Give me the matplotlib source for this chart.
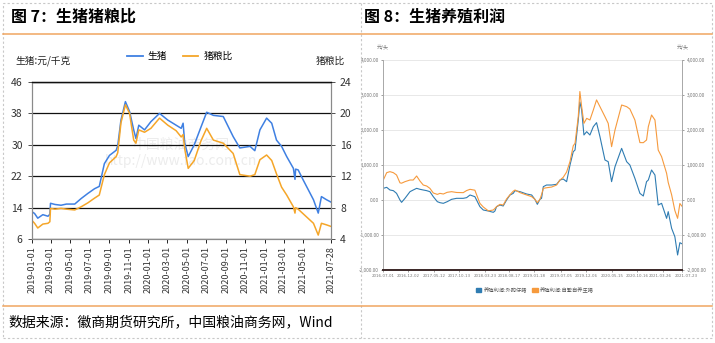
import matplotlib
matplotlib.use("Agg")
import matplotlib.pyplot as plt
import matplotlib.dates as mdates
import matplotlib.transforms as mtransforms
import numpy as np
from matplotlib.lines import Line2D
from matplotlib.patches import Rectangle

plt.rcParams['font.family'] = ['Noto Sans CJK SC', 'DejaVu Sans']

# ---- data: figure 7 (hog price / hog-grain ratio) ----
ratio_dates = ["2019-01-01", "2019-01-10", "2019-01-20", "2019-02-05", "2019-02-21", "2019-02-27",
               "2019-03-01", "2019-03-15", "2019-04-03", "2019-04-20", "2019-05-16", "2019-06-05",
               "2019-06-26", "2019-07-17", "2019-08-01", "2019-08-17", "2019-09-02", "2019-09-23",
               "2019-09-28", "2019-10-08", "2019-10-22", "2019-11-04", "2019-11-17", "2019-11-24",
               "2019-12-03", "2019-12-21", "2020-01-10", "2020-02-06", "2020-03-03", "2020-03-29",
               "2020-04-14", "2020-04-20", "2020-04-25", "2020-05-06", "2020-05-25", "2020-06-15",
               "2020-07-03", "2020-07-24", "2020-08-24", "2020-09-24", "2020-10-15", "2020-11-16",
               "2020-12-01", "2020-12-17", "2021-01-07", "2021-01-23", "2021-02-07", "2021-02-23",
               "2021-03-11", "2021-04-01", "2021-04-06", "2021-04-08", "2021-04-16", "2021-05-02",
               "2021-05-18", "2021-06-03", "2021-06-18", "2021-06-28", "2021-07-14", "2021-07-28"]
hog_price = [13.0, 12.5, 11.3, 12.2, 11.8, 12.3,
             15.1, 14.8, 14.6, 14.9, 14.9, 16.3,
             17.6, 18.8, 19.4, 25.2, 27.3, 28.6,
             29.8, 36.3, 41.0, 38.5, 33.8, 31.6,
             35.0, 33.8, 35.9, 38.0, 36.3, 35.0,
             34.2, 35.5, 30.5, 27.0, 30.0, 34.5,
             38.3, 37.5, 37.2, 32.1, 29.2, 29.6,
             28.5, 33.8, 36.8, 35.5, 31.2, 29.6,
             27.0, 24.0, 21.2, 23.8, 23.6, 21.0,
             18.5, 16.0, 12.6, 16.8, 16.0, 15.4]
hog_grain_ratio = [6.4, 6.0, 5.4, 5.9, 6.0, 6.2,
                   7.9, 7.8, 7.9, 7.8, 7.7, 8.1,
                   8.6, 9.2, 9.6, 12.2, 13.7, 14.5,
                   15.0, 18.8, 21.1, 20.0, 16.6, 16.2,
                   17.9, 17.6, 18.1, 19.4, 18.5, 17.8,
                   17.0, 17.3, 15.5, 13.0, 14.0, 16.5,
                   18.1, 16.6, 16.2, 14.9, 12.2, 12.0,
                   12.2, 14.1, 14.7, 14.0, 12.3, 10.6,
                   9.6, 8.1, 7.3, 8.0, 7.8, 7.2,
                   6.6, 6.0, 4.5, 6.0, 5.8, 5.6]
left_ticks = [6, 14, 22, 30, 38, 46]
right_ticks = [4, 8, 12, 16, 20, 24]
ratio_xticks = ["2019-01-01", "2019-03-01", "2019-05-01", "2019-07-01", "2019-09-01", "2019-11-01",
                "2020-01-01", "2020-03-01", "2020-05-01", "2020-07-01", "2020-09-01", "2020-11-01",
                "2021-01-01", "2021-03-01", "2021-05-01", "2021-07-28"]

# ---- data: figure 8 (hog farming profit, yuan/head) ----
profit_dates = ["2016-07-01", "2016-07-22", "2016-08-11", "2016-09-01", "2016-09-21", "2016-10-12",
                "2016-10-22", "2016-11-12", "2016-12-13", "2017-01-02", "2017-01-23", "2017-02-13",
                "2017-03-05", "2017-03-26", "2017-04-15", "2017-05-06", "2017-05-31", "2017-06-16",
                "2017-07-07", "2017-07-31", "2017-08-27", "2017-09-27", "2017-11-07", "2017-11-28",
                "2017-12-19", "2018-01-18", "2018-02-18", "2018-03-11", "2018-04-11", "2018-05-12",
                "2018-05-22", "2018-06-01", "2018-06-22", "2018-07-12", "2018-08-02", "2018-08-23",
                "2018-09-12", "2018-09-23", "2018-10-24", "2018-12-04", "2019-01-04", "2019-01-24",
                "2019-02-08", "2019-02-24", "2019-03-06", "2019-03-17", "2019-04-06", "2019-05-07",
                "2019-06-07", "2019-06-28", "2019-07-18", "2019-08-08", "2019-08-29", "2019-09-18",
                "2019-09-29", "2019-10-19", "2019-10-29", "2019-11-09", "2019-11-23", "2019-12-10",
                "2019-12-30", "2020-01-20", "2020-02-09", "2020-03-01", "2020-04-01", "2020-04-21",
                "2020-05-12", "2020-06-02", "2020-07-13", "2020-08-13", "2020-09-02", "2020-10-03",
                "2020-11-03", "2020-11-24", "2020-12-14", "2020-12-25", "2021-01-14", "2021-02-04",
                "2021-02-24", "2021-03-17", "2021-04-17", "2021-04-27", "2021-05-18", "2021-06-07",
                "2021-06-24", "2021-07-08", "2021-07-23"]
profit_bought_piglet = [333, 362, 286, 267, 190, 0,
                        -67, 48, 238, 286, 333, 305,
                        286, 267, 238, 95, -48, -76,
                        -95, -48, 19, 48, 48, 67,
                        143, 95, -190, -286, -314, -352,
                        -314, -190, -143, -171, 0, 143,
                        190, 267, 238, 171, 143, 19,
                        -124, 19, 48, 381, 428, 428,
                        448, 571, 600, 524, 1000, 1381,
                        1428, 2286, 2800, 2571, 1857, 1952,
                        1857, 2095, 2210, 1810, 1143, 1095,
                        524, 952, 1476, 1095, 1000, 619,
                        190, 114, 524, 571, 857, 714,
                        -143, -95, -524, -333, -810, -1048,
                        -1571, -1219, -1257]
profit_self_bred = [571, 781, 810, 781, 714, 490,
                    480, 524, 571, 571, 686, 540,
                    428, 400, 333, 200, 160, 190,
                    171, 220, 238, 215, 210, 270,
                    305, 280, -95, -200, -310, -286,
                    -240, -190, -124, -143, 30, 150,
                    250, 286, 210, 143, 95, 20,
                    -76, 19, 150, 333, 350, 370,
                    428, 571, 648, 800, 1100, 1550,
                    1619, 2381, 3100, 2667, 2190, 2333,
                    2286, 2571, 2860, 2667, 2381, 2190,
                    1524, 2000, 2714, 2667, 2600, 2286,
                    1640, 1638, 1714, 2095, 2429, 2286,
                    1428, 1238, 762, 500, 150, -300,
                    -524, -100, -190]
profit_ticks = [-2000, -1000, 0, 1000, 2000, 3000, 4000]
profit_xticks = ["2016-07-01", "2016-12-02", "2017-05-12", "2017-10-13", "2018-03-23", "2018-08-17",
                 "2019-01-18", "2019-07-05", "2019-12-06", "2020-05-15", "2020-10-16", "2021-03-26",
                 "2021-07-23"]

W, H = 715, 343


def fx(px):
    return px / W


def fy(py):
    return 1 - py / H


fig = plt.figure(figsize=(W / 100, H / 100), dpi=100)

# ---- table frame around the two figures ----
dash = (0, (2, 2))
fig.add_artist(Rectangle((fx(3), fy(338)), fx(709), 335 / H, fill=False,
                         edgecolor="#c8c8c8", lw=0.8, linestyle=dash))
fig.add_artist(Line2D([fx(361), fx(361)], [fy(3), fy(338)], color="#c8c8c8", lw=0.8, linestyle=dash))
for yline in (34, 306):
    fig.add_artist(Line2D([fx(3), fx(712)], [fy(yline), fy(yline)], color="#f0a560", lw=1.1))

fig.text(fx(11), fy(17), "图 7：生猪猪粮比", fontsize=11.5, fontweight="bold", va="center")
fig.text(fx(364), fy(17), "图 8：生猪养殖利润", fontsize=11.5, fontweight="bold", va="center")
fig.text(fx(8), fy(322), "数据来源：徽商期货研究所，中国粮油商务网，Wind", fontsize=10, va="center")

# ---- figure 7 ----
ratio_x = mdates.datestr2num(ratio_dates)
ax1 = fig.add_axes([fx(31.7), fy(239), fx(331) - fx(31.7), (239 - 82) / H])
ax1.plot(ratio_x, hog_price, color="#3f80e2", lw=1.1)
ax1.set_ylim(6, 46)
ax1.set_yticks(left_ticks)
ax1.yaxis.grid(True, color="#111111", lw=0.9)
ax1.set_axisbelow(True)
ax1.set_xlim(mdates.datestr2num("2019-01-01"), mdates.datestr2num("2021-07-28"))
ax1.set_xticks(mdates.datestr2num(ratio_xticks))
ax1.set_xticklabels(ratio_xticks, rotation=90, fontsize=6.5, color="#333333")
ax1.tick_params(axis="y", labelsize=7.5, colors="#333333", length=3, width=0.6)
ax1.tick_params(axis="x", length=3, width=0.6, pad=2)

ax2 = ax1.twinx()
ax2.plot(ratio_x, hog_grain_ratio, color="#f5a629", lw=1.1)
ax2.set_ylim(4, 24)
ax2.set_yticks(right_ticks)
ax2.tick_params(axis="y", labelsize=7.5, colors="#333333", length=3, width=0.6)

for ax in (ax1, ax2):
    ax.spines["top"].set_color("#111111")
    ax.spines["top"].set_linewidth(0.9)
    for side in ("left", "right", "bottom"):
        ax.spines[side].set_color("#8a8a8a")
        ax.spines[side].set_linewidth(0.8)

ax1.text(0.5, 0.55, "中国粮油商务网\nhttp://www.fao.com.cn", transform=ax1.transAxes,
         ha="center", va="center", fontsize=10, color="#ececec", zorder=0)

fig.text(fx(15), fy(61), "生猪:元/千克", fontsize=7, va="center", color="#222222")
fig.text(fx(345), fy(61), "猪粮比", fontsize=7, va="center", ha="right", color="#222222")
fig.legend(handles=[Line2D([], [], color="#3f80e2", lw=1.3), Line2D([], [], color="#f5a629", lw=1.3)],
           labels=["生猪", "猪粮比"], loc="center", bbox_to_anchor=(fx(180), fy(56)), ncol=2,
           frameon=False, fontsize=7, handlelength=1.6, columnspacing=1.6, handletextpad=0.5)

# ---- figure 8 ----
profit_x = mdates.datestr2num(profit_dates)
ax3 = fig.add_axes([fx(383.3), fy(270), fx(682.3) - fx(383.3), (270 - 60) / H])
ax3.plot(profit_x, profit_bought_piglet, color="#2f7cb2", lw=0.8)
ax3.plot(profit_x, profit_self_bred, color="#f69a3d", lw=0.8)
ax3.set_ylim(-2000, 4000)
ax3.set_yticks(profit_ticks)
ax3.set_yticklabels([f"{v:,.2f}" for v in profit_ticks])
ax3.yaxis.grid(True, color="#e4e4e4", lw=0.6)
ax3.set_axisbelow(True)
ax3.set_xlim(mdates.datestr2num("2016-07-01"), mdates.datestr2num("2021-07-23"))
ax3.set_xticks(mdates.datestr2num(profit_xticks))
ax3.set_xticklabels(profit_xticks, family=["Liberation Sans Narrow", "DejaVu Sans"])
ax3.tick_params(axis="both", labelsize=3.4, colors="#777777", length=1.5, width=0.5, pad=1.5)
ax3.tick_params(axis="x", labelsize=2.9)
ax3.tick_params(axis="y", right=True, labelright=True)
ax3.spines["top"].set_visible(False)
for side in ("left", "right"):
    ax3.spines[side].set_color("#a8a8a8")
    ax3.spines[side].set_linewidth(0.7)
ax3.spines["bottom"].set_color("#3a2626")
ax3.spines["bottom"].set_linewidth(1.4)

# last two date labels sit close together: nudge them apart slightly
xlabels = ax3.get_xticklabels()
xlabels[-2].set_horizontalalignment("right")
xlabels[-2].set_transform(xlabels[-2].get_transform()
                          + mtransforms.ScaledTranslation(0.09, 0, fig.dpi_scale_trans))
xlabels[-1].set_horizontalalignment("left")
xlabels[-1].set_transform(xlabels[-1].get_transform()
                          + mtransforms.ScaledTranslation(-0.08, 0, fig.dpi_scale_trans))

fig.text(fx(383), fy(47), "元/头", fontsize=3.6, color="#777777", ha="center", va="center")
fig.text(fx(683), fy(47), "元/头", fontsize=3.6, color="#777777", ha="center", va="center")
fig.legend(handles=[Rectangle((0, 0), 1, 1, color="#2f7cb2"), Rectangle((0, 0), 1, 1, color="#f69a3d")],
           labels=["养殖利润:外购仔猪", "养殖利润:自繁自养生猪"], loc="center",
           bbox_to_anchor=(fx(535), fy(290)), ncol=2, frameon=False, fontsize=3.8,
           handlelength=1.0, handleheight=1.0, columnspacing=1.0, handletextpad=0.4,
           labelcolor="#555555")

fig.savefig("out.png", dpi=100)
